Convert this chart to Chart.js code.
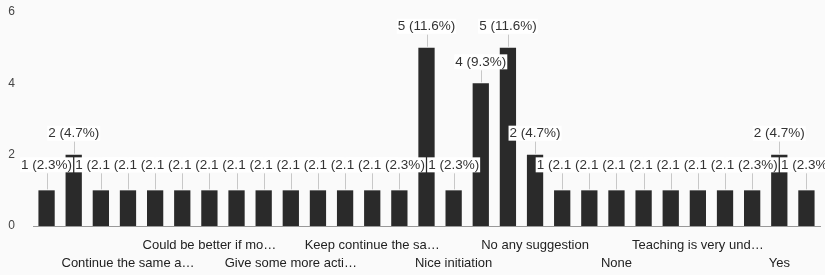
<!DOCTYPE html>
<html>
<head>
<meta charset="utf-8">
<script src="https://cdn.jsdelivr.net/npm/chart.js@4/dist/chart.umd.min.js"></script>
<style>
  html, body { margin: 0; padding: 0; background: #fafafa; }
  #wrap { width: 825px; height: 275px; }
</style>
</head>
<body>
<div id="wrap"><canvas id="chart-bars"></canvas></div>
<script>
// Respuestas (orden alfabético, como en el formulario)
const categorias = [
    'All is well', 'Best teaching', 'Continue', 'Continue the same a…', 'Continue this way',
    'Could be better', 'Could be better if mo…', 'Excellent', 'Extra classes', 'Give some more acti…',
    'Good', 'Good teaching', 'Keep continue the sa…', 'Keep it up', 'Nice',
    'Nice initiation', 'Nil', 'No', 'No any suggestion', 'No suggestion',
    'No suggestions', 'None', 'Nothing', 'Ok', 'Teaching is very und…',
    'Thank you', 'Very good', 'Yes', 'Yes good'
];
const valores = [
    1, 2, 1, 1, 1, 1, 1, 1, 1, 1,
    1, 1, 1, 1, 5, 1, 4, 5, 2, 1,
    1, 1, 1, 1, 1, 1, 1, 2, 1
];
const ticksY = [0, 2, 4, 6];

const total = valores.reduce((a, b) => a + b, 0);

// Etiquetas con caja blanca y línea guía sobre cada barra
const etiquetasPlugin = {
    id: 'etiquetas',
    afterDatasetsDraw(chart) {
        const ctx = chart.ctx;
        const meta = chart.getDatasetMeta(0);
        ctx.save();
        ctx.font = '13.5px "Liberation Sans", Arial, sans-serif';
        ctx.textAlign = 'center';
        ctx.textBaseline = 'middle';
        meta.data.forEach((bar, i) => {
            const v = valores[i];
            const texto = v + ' (' + (v / total * 100).toFixed(1) + '%)';
            const w = ctx.measureText(texto).width;
            const yLabel = bar.y - (v === 1 ? 25 : 21);
            // línea guía
            ctx.strokeStyle = 'rgba(150,150,150,0.5)';
            ctx.lineWidth = 1;
            ctx.beginPath();
            ctx.moveTo(Math.round(bar.x) + 0.5, yLabel + 8);
            ctx.lineTo(Math.round(bar.x) + 0.5, bar.y - 1);
            ctx.stroke();
            // caja
            ctx.fillStyle = '#ffffff';
            ctx.fillRect(bar.x - w / 2 - 1, yLabel - 8, w + 2, 15);
            ctx.fillStyle = '#333333';
            ctx.fillText(texto, bar.x, yLabel);
        });
        ctx.restore();
    }
};

const ctx = document.getElementById('chart-bars').getContext('2d');
new Chart(ctx, {
    type: 'bar',
    data: {
        labels: categorias,
        datasets: [{
            data: valores,
            backgroundColor: '#2a2a2a',
            borderWidth: 0,
            barPercentage: 0.6,
            categoryPercentage: 1.0
        }]
    },
    options: {
        responsive: true,
        maintainAspectRatio: false,
        animation: false,
        layout: { padding: { top: 12, left: 6, right: 5, bottom: 0 } },
        plugins: {
            legend: { display: false },
            tooltip: { enabled: false }
        },
        scales: {
            y: {
                min: 0,
                max: 6,
                afterBuildTicks: scale => { scale.ticks = ticksY.map(v => ({ value: v })); },
                afterFit: scale => {
                    scale.width = 27;
                    scale.paddingTop = 0;
                    scale.paddingBottom = 0;
                },
                grid: { display: false, drawTicks: false },
                border: { display: false },
                ticks: {
                    padding: 18,
                    color: '#444',
                    font: { size: 12, family: '"Liberation Sans", Arial, sans-serif' }
                }
            },
            x: {
                afterFit: scale => {
                    scale.height = 49;
                    scale.paddingLeft = 0;
                    scale.paddingRight = 0;
                },
                grid: { display: false, drawTicks: false },
                border: { display: true, color: '#999', width: 1 },
                ticks: {
                    autoSkip: false,
                    maxRotation: 0,
                    minRotation: 0,
                    padding: 10,
                    color: '#222',
                    font: { size: 13, family: '"Liberation Sans", Arial, sans-serif', lineHeight: 1.4 },
                    callback: function(value, index) {
                        if (index === 0 || index % 3 !== 0) return '';
                        const nombre = categorias[index];
                        return (index % 6 === 0) ? [nombre, ''] : ['', nombre];
                    }
                }
            }
        }
    },
    plugins: [etiquetasPlugin]
});
</script>
</body>
</html>
